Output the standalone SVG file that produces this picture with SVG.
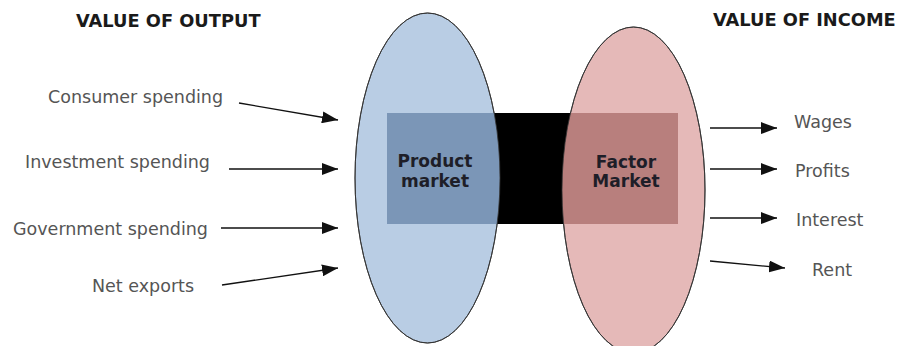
<svg xmlns="http://www.w3.org/2000/svg" width="900" height="346" viewBox="0 0 900 346">
<defs>
<style>
.title{font-family:"DejaVu Sans",Verdana,sans-serif;font-weight:bold;font-size:17.8px;fill:#1a1a1a}
.lbl{font-family:"DejaVu Sans",Verdana,sans-serif;font-size:17.5px;fill:#555}
.mkt{font-family:"DejaVu Sans",Verdana,sans-serif;font-weight:bold;font-size:17px;fill:#1e1e28;text-anchor:middle}
.arrow{stroke:#111;stroke-width:1.3;fill:none;marker-end:url(#ah)}
.ell{stroke:#333;stroke-width:1}
</style>
<marker id="ah" viewBox="0 0 16 12" refX="16" refY="6" markerWidth="16" markerHeight="12" markerUnits="userSpaceOnUse" orient="auto">
<path d="M0,0 L16,6 L0,12 z" fill="#111"/>
</marker>
<clipPath id="clipL"><ellipse cx="427.5" cy="178" rx="72.5" ry="165"/></clipPath>
<clipPath id="clipR"><ellipse cx="633.5" cy="190" rx="71.5" ry="163"/></clipPath>
</defs>
<rect width="900" height="346" fill="#fff"/>
<text class="title" x="76" y="27">VALUE OF OUTPUT</text>
<text class="title" x="713" y="26">VALUE OF INCOME</text>
<g id="product-market">
<ellipse class="ell" cx="427.5" cy="178" rx="72.5" ry="165" fill="#b9cde4"/>
</g>
<g id="factor-market">
<ellipse class="ell" cx="633.5" cy="190" rx="71.5" ry="163" fill="#e5b9b8"/>
</g>
<g id="link">
<rect x="387" y="113" width="291" height="111" fill="#000"/>
<rect x="387" y="113" width="291" height="111" fill="#7b96b7" clip-path="url(#clipL)"/>
<rect x="387" y="113" width="291" height="111" fill="#b87f7d" clip-path="url(#clipR)"/>
<ellipse cx="427.5" cy="178" rx="72.5" ry="165" fill="none" stroke="#333" stroke-width="0.8"/>
<ellipse cx="633.5" cy="190" rx="71.5" ry="163" fill="none" stroke="#333" stroke-width="0.8"/>
<text class="mkt" x="435" y="167">Product</text>
<text class="mkt" x="435" y="187">market</text>
<text class="mkt" x="626" y="168">Factor</text>
<text class="mkt" x="626" y="187">Market</text>
</g>
<g id="labels">
<text class="lbl" x="48" y="103">Consumer spending</text>
<text class="lbl" x="25" y="168">Investment spending</text>
<text class="lbl" x="13" y="235">Government spending</text>
<text class="lbl" x="92" y="292">Net exports</text>
<text class="lbl" x="794" y="128">Wages</text>
<text class="lbl" x="795" y="177">Profits</text>
<text class="lbl" x="796" y="226">Interest</text>
<text class="lbl" x="812" y="276">Rent</text>
</g>
<g id="connectors">
<line class="arrow" x1="239" y1="103" x2="338" y2="120"/>
<line class="arrow" x1="229" y1="169" x2="338" y2="169"/>
<line class="arrow" x1="221" y1="228" x2="338" y2="228"/>
<line class="arrow" x1="222" y1="285" x2="338" y2="268"/>
<line class="arrow" x1="710" y1="128" x2="777" y2="128"/>
<line class="arrow" x1="710" y1="169" x2="777" y2="169"/>
<line class="arrow" x1="710" y1="218" x2="777" y2="218"/>
<line class="arrow" x1="710" y1="261" x2="785" y2="268"/>
</g>
</svg>
